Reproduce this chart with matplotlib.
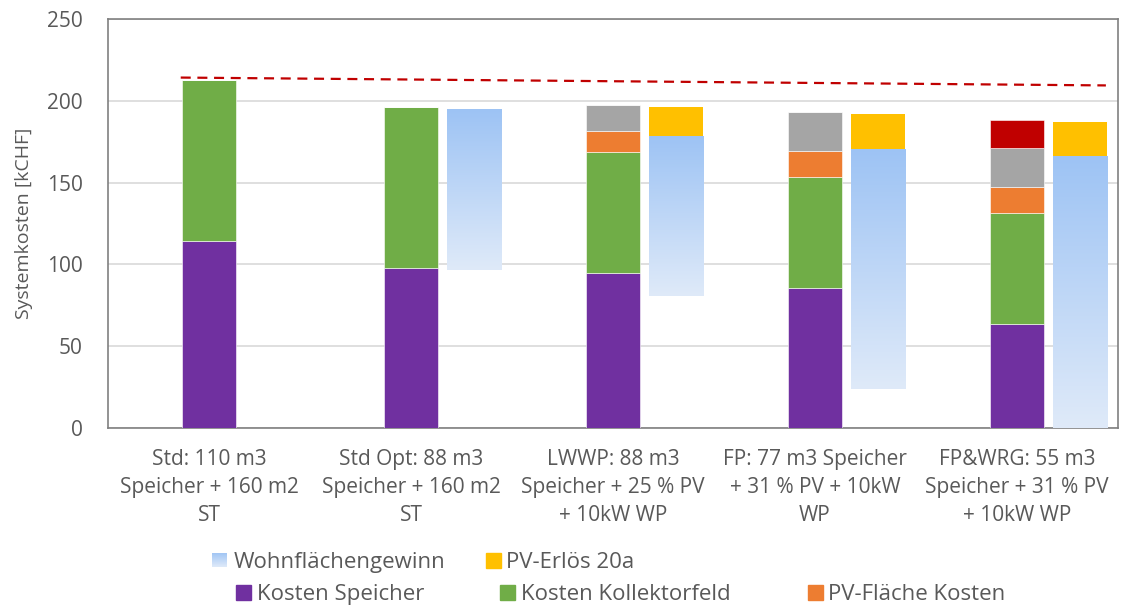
import numpy as np
import matplotlib
matplotlib.use("Agg")
import matplotlib.pyplot as plt
from matplotlib.patches import Rectangle
from matplotlib.colors import LinearSegmentedColormap

# ---- data (kCHF) ----
categories = [
    "Std: 110 m3\nSpeicher + 160 m2\nST",
    "Std Opt: 88 m3\nSpeicher + 160 m2\nST",
    "LWWP: 88 m3\nSpeicher + 25 % PV\n+ 10kW WP",
    "FP: 77 m3 Speicher\n+ 31 % PV + 10kW\nWP",
    "FP&WRG: 55 m3\nSpeicher + 31 % PV\n+ 10kW WP",
]
kosten_speicher = [114.3, 97.8, 94.7, 85.6, 63.4]
kosten_kollektorfeld = [98.4, 98.4, 74.0, 67.6, 67.8]
pv_flaeche_kosten = [0.0, 0.0, 13.1, 16.1, 16.1]
kosten_waermepumpe = [0.0, 0.0, 15.6, 23.9, 23.8]
kosten_wrg = [0.0, 0.0, 0.0, 0.0, 17.2]

# Revenue column: living-space gain hangs down from its top value, PV revenue sits on top
wohnflaechen_top = [0.0, 195.0, 178.7, 170.5, 166.4]
wohnflaechengewinn = [0.0, 98.4, 97.8, 146.7, 166.4]
pv_erloes = [0.0, 0.0, 17.5, 21.4, 20.6]

# Reference cost line
referenz_x = [-0.14, 4.44]
referenz_y = [214.2, 209.4]

y_ticks = [0, 50, 100, 150, 200, 250]

# ---- styling ----
C_SPEICHER = "#7030A0"
C_KOLLEKTOR = "#70AD47"
C_PV = "#ED7D31"
C_WP = "#A5A5A5"
C_WRG = "#C00000"
C_ERLOES = "#FFC000"
BLUE_TOP = "#9DC3F4"
BLUE_BOT = "#DFEAF9"
TXT = "#595959"
FONT = ["Open Sans", "DejaVu Sans"]

plt.rcParams["font.family"] = FONT

W, H = 1122, 607
fig = plt.figure(figsize=(W / 100, H / 100), dpi=100)
ax = fig.add_axes([108 / W, 1 - 428 / H, (1118 - 108) / W, (428 - 19) / H])

x = np.arange(len(categories))
bw = 0.263
offset = 0.31
bw2 = 0.268

# stacked cost bars
bottom = np.zeros(len(categories))
for vals, col in [
    (kosten_speicher, C_SPEICHER),
    (kosten_kollektorfeld, C_KOLLEKTOR),
    (pv_flaeche_kosten, C_PV),
    (kosten_waermepumpe, C_WP),
    (kosten_wrg, C_WRG),
]:
    v = np.array(vals)
    ax.bar(x, v, bw, bottom=bottom, color=col, edgecolor="white",
           linewidth=0.4, zorder=3)
    bottom += v

# gradient-filled living-space gain bars
cmap = LinearSegmentedColormap.from_list("wohn", [BLUE_BOT, BLUE_TOP])
grad = np.linspace(0, 1, 256).reshape(-1, 1)
for xi, top, h in zip(x, wohnflaechen_top, wohnflaechengewinn):
    if h <= 0:
        continue
    x0 = xi + offset - bw2 / 2
    im = ax.imshow(grad, extent=[x0, x0 + bw2, top - h, top], origin="lower",
                   cmap=cmap, aspect="auto", zorder=3, interpolation="bilinear")
    clip = Rectangle((x0, top - h), bw2, h, transform=ax.transData,
                     facecolor="none", edgecolor="none")
    ax.add_patch(clip)
    im.set_clip_path(clip)

# PV revenue on top of the gain bars
ax.bar(x + offset, pv_erloes, bw2, bottom=wohnflaechen_top, color=C_ERLOES,
       linewidth=0, zorder=3)

# reference line
ax.plot(referenz_x, referenz_y, color=C_WRG, linewidth=1.6,
        dashes=(4.5, 3), zorder=4)

ax.set_xlim(-0.5, 4.5)
ax.set_ylim(0, 250)
ax.set_yticks(y_ticks)
ax.set_yticklabels([str(t) for t in y_ticks], fontsize=15, color=TXT)
ax.tick_params(axis="y", length=0, pad=18)
ax.set_xticks([])
ax.grid(axis="y", color="#D9D9D9", linewidth=1.2, zorder=0)
ax.set_axisbelow(True)
for s in ax.spines.values():
    s.set_color("#808080")
    s.set_linewidth(1.2)

ax.set_ylabel("Systemkosten [kCHF]", fontsize=14, color=TXT)
ax.yaxis.set_label_coords(-0.074, 0.5)

# category labels
W_AX = 1010
for xi, lab in zip(x, categories):
    fig.text((108 + (xi + 0.5) * W_AX / 5) / W, 1 - 449 / H, lab,
             ha="center", va="top", fontsize=15, color=TXT, linespacing=1.45)

# legend
def fx(px):
    return px / W

def fy(py):
    return 1 - py / H

def legend_patch(x0, y_c, size, color=None, gradient=False):
    if gradient:
        lax = fig.add_axes([fx(x0), fy(y_c + size / 2), size / W, size / H])
        lax.imshow(grad, origin="lower", cmap=cmap, aspect="auto")
        lax.axis("off")
    else:
        fig.patches.append(Rectangle((fx(x0), fy(y_c + size / 2)), size / W,
                                     size / H, transform=fig.transFigure,
                                     color=color))

legend_rows = [
    (560, [(212, None, True, "Wohnflächengewinn", 234),
           (486, C_ERLOES, False, "PV-Erlös 20a", 506)]),
    (592, [(236, C_SPEICHER, False, "Kosten Speicher", 257),
           (500, C_KOLLEKTOR, False, "Kosten Kollektorfeld", 521),
           (808, C_PV, False, "PV-Fläche Kosten", 828)]),
]
for yc, entries in legend_rows:
    for px0, col, is_grad, label, tx in entries:
        legend_patch(px0, yc, 15, col, is_grad)
        fig.text(fx(tx), fy(yc), label, ha="left", va="center_baseline",
                 fontsize=16, color=TXT)

fig.savefig("out.png", dpi=100)
